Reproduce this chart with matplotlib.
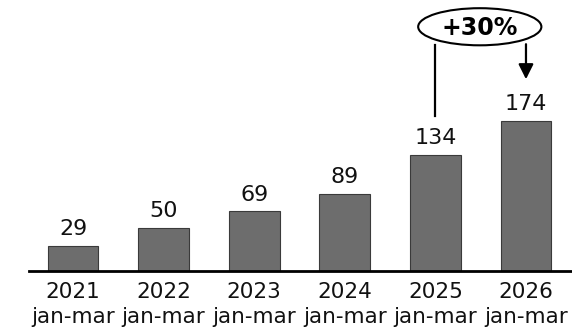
import matplotlib
matplotlib.use("Agg")
import matplotlib.pyplot as plt
from matplotlib.patches import Ellipse

years = ["2021", "2022", "2023", "2024", "2025", "2026"]
period = "jan-mar"
values = [29, 50, 69, 89, 134, 174]
growth_label = "+30%"

plt.rcParams["font.family"] = ["DejaVu Sans"]

fig = plt.figure(figsize=(5.72, 3.29), dpi=100)
ax = fig.add_axes([29 / 572, 58 / 329, 543 / 572, 271 / 329])

x = list(range(len(values)))
ax.bar(x, values, width=0.56, color="#6d6d6d", edgecolor="#3a3a3a", linewidth=0.8, zorder=2)

for xi, v in zip(x, values):
    ax.annotate(str(v), (xi, v), xytext=(0, 5), textcoords="offset points",
                ha="center", va="bottom", fontsize=16, color="#111111")

ax.set_xlim(-0.486, 5.508)
ax.set_ylim(0, 314)
ax.set_xticks(x)
ax.set_xticklabels([f"{y}\n{period}" for y in years], fontsize=15.5, linespacing=1.32, color="#111111")
ax.tick_params(axis="x", length=0, pad=8)
ax.set_yticks([])
for side in ["left", "right", "top"]:
    ax.spines[side].set_visible(False)
ax.spines["bottom"].set_linewidth(2)
ax.spines["bottom"].set_color("black")

# growth callout between the last two quarters
cx, cy = 4.49, 283
ell = Ellipse((cx, cy), 1.36, 43, facecolor="white", edgecolor="black", linewidth=1.5, zorder=4)
ax.add_patch(ell)
ax.text(cx, cy - 1, growth_label, ha="center", va="center", fontsize=17, fontweight="bold", zorder=5)
ax.plot([4, 4], [262, 180], color="black", linewidth=1.6, zorder=3)
ax.annotate("", xy=(5, 219), xytext=(5, 266),
            arrowprops=dict(arrowstyle="-|>,head_length=0.9,head_width=0.45", color="black", lw=1.6),
            zorder=3)

fig.savefig("out.png", dpi=100)
